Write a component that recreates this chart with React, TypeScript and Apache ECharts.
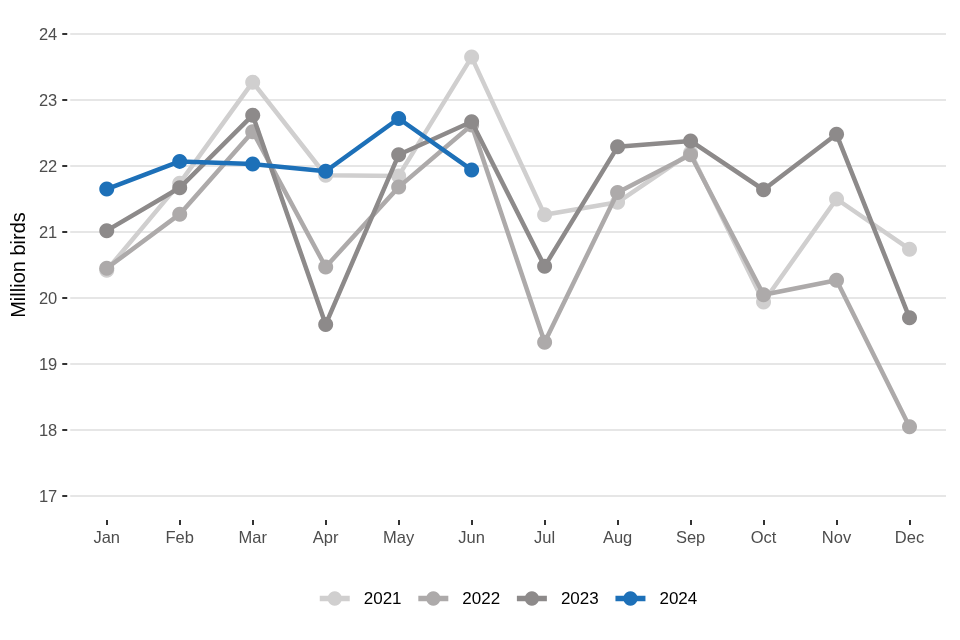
import React, { useEffect, useRef } from "react";
import * as echarts from "echarts";

const months = ["Jan", "Feb", "Mar", "Apr", "May", "Jun", "Jul", "Aug", "Sep", "Oct", "Nov", "Dec"];
const years = ["2021", "2022", "2023", "2024"];
const values2021 = [20.42, 21.74, 23.27, 21.86, 21.85, 23.65, 21.26, 21.45, 22.2, 19.94, 21.5, 20.74];
const values2022 = [20.45, 21.27, 22.52, 20.47, 21.68, 22.62, 19.33, 21.6, 22.17, 20.05, 20.27, 18.05];
const values2023 = [21.02, 21.67, 22.77, 19.6, 22.17, 22.67, 20.48, 22.29, 22.38, 21.64, 22.48, 19.7];
const values2024 = [21.65, 22.07, 22.03, 21.92, 22.72, 21.94];
const colors = ["#d0cfcf", "#adaaaa", "#8d8a8a", "#1d70b8"];
const yTicks = [17, 18, 19, 20, 21, 22, 23, 24];

export default function App() {
  const ref = useRef<HTMLDivElement>(null);
  useEffect(() => {
    if (!ref.current) return;
    const chart = echarts.init(ref.current, undefined, { renderer: "svg" });
    const data = [values2021, values2022, values2023, values2024];
    const font = "Liberation Sans, Arial, sans-serif";
    chart.setOption({
      animation: false,
      textStyle: { fontFamily: font },
      grid: { left: 70, right: 14, top: 34, bottom: 144, containLabel: false },
      legend: {
        top: 585,
        left: 312,
        itemWidth: 30,
        itemHeight: 18,
        itemGap: 14,
        data: years,
        lineStyle: { width: 5.5 },
        textStyle: { fontSize: 17, color: "#000", fontFamily: font, padding: [0, 0, 0, 9] },
      },
      xAxis: {
        type: "category",
        data: months,
        boundaryGap: true,
        offset: 24,
        axisLine: { show: false },
        axisTick: { show: true, alignWithLabel: true, length: 5, lineStyle: { color: "#333", width: 2 } },
        axisLabel: { fontSize: 16.5, color: "#4d4d4d", margin: 8, fontFamily: font },
        splitLine: { show: false },
      },
      yAxis: {
        type: "value",
        min: yTicks[0],
        max: yTicks[yTicks.length - 1],
        interval: 1,
        offset: 3,
        name: "Million birds",
        nameLocation: "middle",
        nameRotate: 90,
        nameGap: 39,
        nameTextStyle: { fontSize: 20, color: "#000", fontFamily: font },
        axisLine: { show: false },
        axisTick: { show: true, length: 5, lineStyle: { color: "#333", width: 2 } },
        axisLabel: { fontSize: 16.5, color: "#4d4d4d", margin: 10, fontFamily: font },
        splitLine: { show: true, lineStyle: { color: "#e6e6e6", width: 2 } },
      },
      series: years.map((y, i) => ({
        name: y,
        type: "line",
        data: data[i],
        symbol: "circle",
        symbolSize: 15,
        showSymbol: true,
        lineStyle: { width: 4.5, color: colors[i] },
        itemStyle: { color: colors[i] },
        emphasis: { disabled: true },
        z: 2 + i,
      })),
    });
    return () => chart.dispose();
  }, []);
  return <div ref={ref} style={{ position: "fixed", left: 0, top: 0, width: 960, height: 640 }} />;
}
